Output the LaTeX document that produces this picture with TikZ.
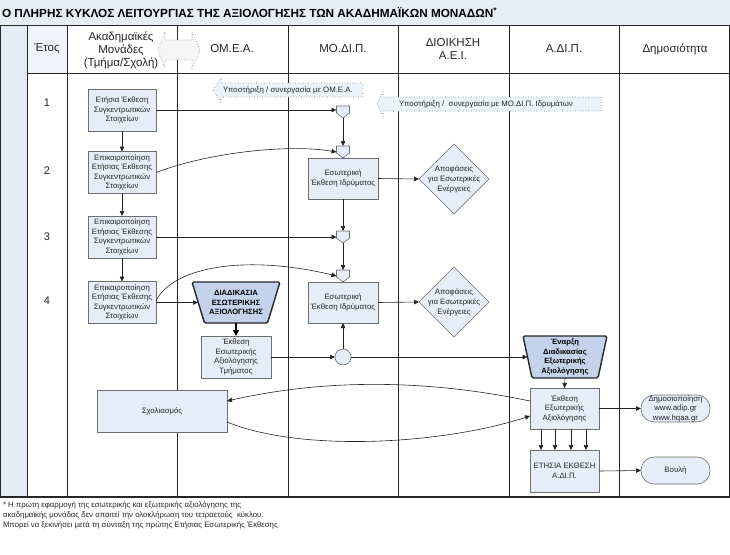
\documentclass[tikz,border=0pt]{standalone}
\usepackage{fontspec}
\setmainfont{Liberation Sans}
\usetikzlibrary{arrows.meta,shapes.geometric,backgrounds,calc}

\definecolor{boxfill}{RGB}{230,237,248}
\definecolor{boxline}{RGB}{110,110,110}
\definecolor{lanefill}{RGB}{228,235,246}
\definecolor{titlefill}{RGB}{230,237,247}
\definecolor{trapfill}{RGB}{196,211,235}
\definecolor{callfill}{RGB}{236,242,250}
\definecolor{lnc}{RGB}{35,35,35}

\begin{document}
\begin{tikzpicture}[x=1pt,y=-1pt,
  every node/.style={font=\fontsize{7.8}{9.5}\selectfont, text=black!85, inner sep=0pt, outer sep=0pt},
  box/.style={draw=boxline, line width=0.6pt, fill=boxfill, align=center, minimum width=68pt, minimum height=42pt},
  hdr/.style={font=\fontsize{11.5}{13}\selectfont, align=center},
  yr/.style={font=\fontsize{11}{13}\selectfont},
  lane/.style={draw=black!85, line width=0.8pt},
  arr/.style={draw=lnc, line width=0.6pt, -{Triangle[length=5pt,width=4.5pt]}},
  thickarr/.style={draw=black, line width=1.3pt, -{Triangle[length=6pt,width=6pt]}},
  mergen/.style={minimum width=13pt, minimum height=12pt},
  mergedraw/.style={draw=boxline, line width=0.6pt, fill=boxfill},
  trapbox/.style={align=center, font=\fontsize{7.6}{9.5}\selectfont\bfseries, text=black},
  trapdraw/.style={draw=black!85, line width=1.4pt, fill=trapfill, rounded corners=1.5pt},
  dia/.style={diamond, aspect=1, draw=boxline, line width=0.6pt, fill=boxfill, minimum width=70pt, minimum height=70pt},
  oval/.style={draw=boxline, line width=0.6pt, fill=boxfill, rounded corners=13pt, minimum width=69pt, minimum height=27pt, align=center},
  callout/.style={draw=gray, dotted, line width=0.6pt, fill=callfill},
  hdrarrow/.style={draw=gray, dotted, line width=0.6pt, fill=gray!7}
]
\useasboundingbox (0,0) rectangle (730,554);

\begin{scope}[on background layer]
  % title band and lanes
  \fill[titlefill] (0,0) rectangle (730,25);
  \fill[lanefill] (0,25) rectangle (27,497);
  \fill[lanefill!55] (27,25) rectangle (67,73);
  \draw[lane] (0,25) -- (730,25);
  \draw[lane] (27,73) -- (730,73);
  \draw[lane, line width=1.3pt] (0,497) -- (730,497);
  \foreach \xx in {0.5,27,67,177,288,398,509,619,729.5}
    \draw[lane] (\xx,25) -- (\xx,497);
\end{scope}

% title
\node[anchor=west, font=\fontsize{11.75}{13}\selectfont\bfseries, text=black] (title) at (2,13)
  {Ο ΠΛΗΡΗΣ ΚΥΚΛΟΣ ΛΕΙΤΟΥΡΓΙΑΣ ΤΗΣ ΑΞΙΟΛΟΓΗΣΗΣ ΤΩΝ ΑΚΑΔΗΜΑΪΚΩΝ ΜΟΝΑΔΩΝ\textsuperscript{*}};

% header double arrow (drawn over lane line)
\draw[hdrarrow] (158,50) -- (165,32) -- (165,40) -- (192,40) -- (192,32) -- (200,50)
  -- (192,68) -- (192,60) -- (165,60) -- (165,68) -- cycle;

% headers
\node[hdr] (h0) at (47,49) {Έτος};
\node[hdr] (h1) at (121,50) {Ακαδημαϊκές\\Μονάδες\\(Τμήμα/Σχολή)};
\node[hdr] (h2) at (232,49) {ΟΜ.Ε.Α.};
\node[hdr] (h3) at (343,49) {ΜΟ.ΔΙ.Π.};
\node[hdr] (h4) at (453,49) {ΔΙΟΙΚΗΣΗ\\Α.Ε.Ι.};
\node[hdr] (h5) at (564,49) {Α.ΔΙ.Π.};
\node[hdr] (h6) at (675,49) {Δημοσιότητα};

% years
\node[yr] (y1) at (47,103) {1};
\node[yr] (y2) at (47,171) {2};
\node[yr] (y3) at (47,237) {3};
\node[yr] (y4) at (47,301) {4};

% callouts
\draw[callout] (213,90) -- (221,78) -- (221,83) -- (363,83) -- (363,97) -- (221,97) -- (221,102) -- cycle;
\node[anchor=west] (c1) at (223,90) {Υποστήριξη / συνεργασία με ΟΜ.Ε.Α.};
\draw[callout] (377,104) -- (383,92) -- (383,97) -- (601,97) -- (601,111) -- (383,111) -- (383,116) -- cycle;
\node[anchor=west] (c2) at (399,104) {Υποστήριξη /\ \ συνεργασία με ΜΟ.ΔΙ.Π. Ιδρυμάτων};

% academic unit boxes
\node[box] (a1) at (122,110) {Ετήσια Έκθεση\\Συγκεντρωτικών\\Στοιχείων};
\node[box] (a2) at (122,172.5) {Επικαιροποίηση\\Ετήσιας Έκθεσης\\Συγκεντρωτικών\\Στοιχείων};
\node[box] (a3) at (122,237) {Επικαιροποίηση\\Ετήσιας Έκθεσης\\Συγκεντρωτικών\\Στοιχείων};
\node[box] (a4) at (122,302.5) {Επικαιροποίηση\\Ετήσιας Έκθεσης\\Συγκεντρωτικών\\Στοιχείων};
\node[box, minimum width=130pt] (s) at (162,411) {Σχολιασμός};

% merge connectors
\node[mergen] (m1) at (343,112) {};
\node[mergen] (m2) at (343,152) {};
\node[mergen] (m3) at (343,237) {};
\node[mergen] (m4) at (343,276) {};
\foreach \mm in {m1,m2,m3,m4}
  \draw[mergedraw] (\mm.north west) -- (\mm.north east) -- ([yshift=-1pt]\mm.east) -- (\mm.south) -- ([yshift=-1pt]\mm.west) -- cycle;

% institution reports
\node[box, minimum width=70pt, minimum height=41pt] (i1) at (343,178.5) {Εσωτερική\\Έκθεση Ιδρύματος};
\node[box, minimum width=70pt, minimum height=41pt] (i2) at (343,302.5) {Εσωτερική\\Έκθεση Ιδρύματος};

% decisions
\node[dia] (d1) at (454,179) {};
\node[align=center, font=\fontsize{7.8}{10}\selectfont] (d1t) at (d1) {Αποφάσεις\\για Εσωτερικές\\Ενέργειες};
\node[dia] (d2) at (454,302) {};
\node[align=center, font=\fontsize{7.8}{10}\selectfont] (d2t) at (d2) {Αποφάσεις\\για Εσωτερικές\\Ενέργειες};

% internal evaluation process
\node[trapbox, minimum width=88pt, minimum height=41pt] (t1) at (236,302.5) {ΔΙΑΔΙΚΑΣΙΑ\\ΕΣΩΤΕΡΙΚΗΣ\\ΑΞΙΟΛΟΓΗΣΗΣ};
\node[box, minimum width=70pt, minimum height=42pt] (e) at (236,357) {Έκθεση\\Εσωτερικής\\Αξιολόγησης\\Τμήματος};
\node[circle, draw=boxline, line width=0.6pt, fill=boxfill, minimum size=16pt] (c) at (343,357) {};

% external evaluation
\node[trapbox, minimum width=84pt, minimum height=42pt] (t2) at (565,357) {Έναρξη\\Διαδικασίας\\Εξωτερικής\\Αξιολόγησης};
\node[box, minimum width=69pt, minimum height=41pt] (x) at (564.5,408.5) {Έκθεση\\Εξωτερικής\\Αξιολόγησης};
\node[box, minimum width=69pt, minimum height=42pt] (y) at (564.5,471) {ΕΤΗΣΙΑ ΕΚΘΕΣΗ\\Α.ΔΙ.Π.};
\node[oval] (p) at (675.5,408.5) {Δημοσιοποίηση\\www.adip.gr\\www.hqaa.gr};
\node[oval] (b) at (675.5,470.5) {Βουλή};

\begin{scope}[on background layer]
  \draw[trapdraw] (t1.north west) -- (t1.north east) -- ([xshift=-12.5pt]t1.south east) -- ([xshift=12.5pt]t1.south west) -- cycle;
  \draw[trapdraw] (t2.north west) -- (t2.north east) -- ([xshift=-9pt]t2.south east) -- ([xshift=9pt]t2.south west) -- cycle;
\end{scope}

% connectors
\draw[arr] (a1.south) -- (a2.north);
\draw[arr] (a2.south) -- (a3.north);
\draw[arr] (a3.south) -- (a4.north);
\draw[arr] (a1.east) -- (a1.east -| m1.west);
\draw[arr] (m1.south) -- (m2.north);
\draw[arr] (a2.east) .. controls (210,152) and (290,144) .. (m2.west);
\draw[arr] (i1.east) -- (d1.west);
\draw[arr] (i1.south) -- (m3.north);
\draw[arr] (a3.east) -- (m3.west);
\draw[arr] (m3.south) -- (m4.north);
\draw[arr] ([yshift=2pt]a4.east) .. controls (175,265) and (250,255) .. (m4.west);
\draw[arr] (a4.east) -- ([xshift=6pt]t1.west);
\draw[arr] (i2.east) -- (d2.west);
\draw[thickarr] (t1.south) -- (e.north);
\draw[arr] (e.east) -- (c.west);
\draw[arr] (c.north) -- (i2.south);
\draw[arr] (c.east) -- ([xshift=4.5pt]t2.west);
\draw[arr] (t2.south) -- (x.north);
\foreach \dx in {-23.5,-9.5,6.5,21.5}
  \draw[arr] ([xshift=\dx pt]x.south) -- ([xshift=\dx pt]y.north);
\draw[arr] (x.east) -- (p.west);
\draw[arr] (y.east) -- (b.west);
\draw[arr] ([yshift=7.5pt]x.west) .. controls (420,378) and (320,380) .. ([yshift=10pt]s.east);
\draw[arr] ([yshift=-11pt]s.east) .. controls (300,452) and (440,445) .. ([yshift=-7.5pt]x.west);

% footnote
\node[anchor=north west, align=left, font=\fontsize{7.8}{10}\selectfont] (note) at (3,502)
  {* Η πρώτη εφαρμογή της εσωτερικής και εξωτερικής αξιολόγησης της\\
   ακαδημαϊκής μονάδας δεν απαιτεί την ολοκλήρωση του τετραετούς\ \ κύκλου.\\
   Μπορεί να ξεκινήσει μετά τη σύνταξη της πρώτης Ετήσιας Εσωτερικής Έκθεσης};
\end{tikzpicture}
\end{document}
